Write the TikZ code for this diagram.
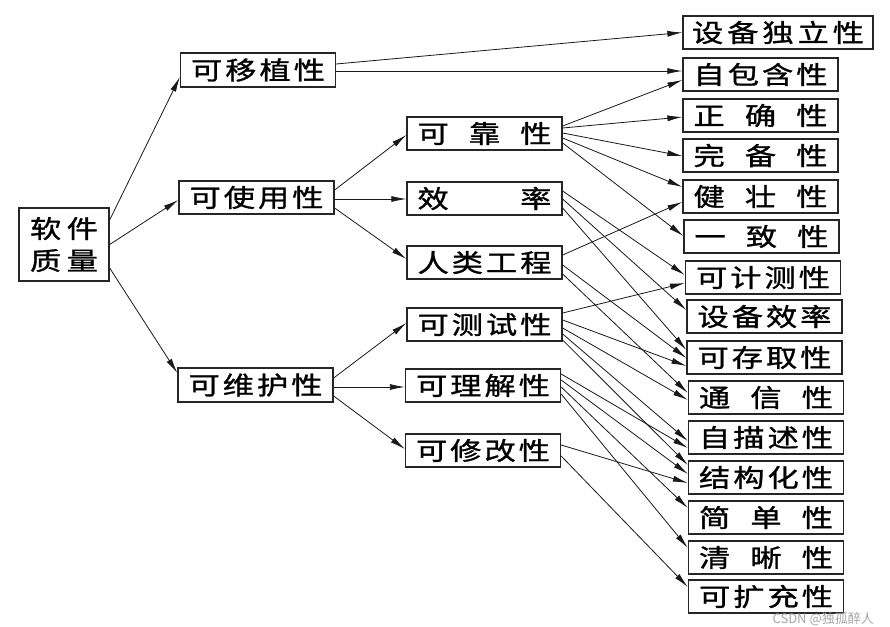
\documentclass[tikz,border=0pt]{standalone}
\usepackage{fontspec}
\usetikzlibrary{arrows.meta}
\newfontfamily\cjk[FakeStretch=1.25,FakeBold=1.2]{Noto Sans CJK SC}
\newfontfamily\cjkw{Noto Sans CJK SC}
\newcommand\lab[1]{\makebox[134pt][s]{#1}}
\newcommand\hf{\hfill{}}
\newcommand\edge[4]{\draw[arr] ([yshift=#2pt]#1.east) -- ([yshift=#4pt]#3.west);}
\tikzset{
  qbox/.style={draw=black!85, line width=1.3pt, rectangle, inner sep=0pt,
    minimum width=155pt, minimum height=33pt,
    font=\cjk\fontsize{25}{30}\selectfont},
  arr/.style={line width=0.8pt, draw=black!90, -{Latex[length=15pt,width=6pt]}}
}
\begin{document}
\begin{tikzpicture}[x=1pt,y=1pt]
\useasboundingbox (0,0) rectangle (890,-626);
\fill[white] (0,0) rectangle (890,-626);
% root
\node[qbox, minimum width=90pt, minimum height=73pt, align=center] (root) at (64,-244.5)
  {\makebox[68pt][s]{软\hf{}件}\\[2pt]\makebox[68pt][s]{质\hf{}量}};
% level 1
\node[qbox, minimum height=34pt] (P) at (258,-70) {\lab{可\hf{}移\hf{}植\hf{}性}};
\node[qbox] (U) at (256.5,-197.5) {\lab{可\hf{}使\hf{}用\hf{}性}};
\node[qbox, minimum height=34pt] (M) at (255.5,-385) {\lab{可\hf{}维\hf{}护\hf{}性}};
% level 2
\node[qbox] (R) at (484.5,-133.5) {\lab{可\hf{}靠\hf{}性}};
\node[qbox] (E) at (484.5,-198.5) {\lab{效\hf{}率}};
\node[qbox] (H) at (484.5,-262.5) {\lab{人\hf{}类\hf{}工\hf{}程}};
\node[qbox] (T) at (484.5,-324.5) {\lab{可\hf{}测\hf{}试\hf{}性}};
\node[qbox] (Un) at (483,-385.5) {\lab{可\hf{}理\hf{}解\hf{}性}};
\node[qbox] (Mo) at (483,-450.5) {\lab{可\hf{}修\hf{}改\hf{}性}};
% level 3
\node[qbox, minimum width=190pt] (r1) at (778,-32.5) {\makebox[172pt][s]{设\hf{}备\hf{}独\hf{}立\hf{}性}};
\node[qbox] (r2) at (760.5,-74.5) {\lab{自\hf{}包\hf{}含\hf{}性}};
\node[qbox] (r3) at (760.5,-115.5) {\lab{正\hf{}确\hf{}性}};
\node[qbox] (r4) at (760.5,-155.5) {\lab{完\hf{}备\hf{}性}};
\node[qbox] (r5) at (760.5,-196.5) {\lab{健\hf{}壮\hf{}性}};
\node[qbox] (r6) at (761.5,-236.5) {\lab{一\hf{}致\hf{}性}};
\node[qbox] (r7) at (763,-277.5) {\lab{可\hf{}计\hf{}测\hf{}性}};
\node[qbox] (r8) at (764.5,-316.5) {\lab{设\hf{}备\hf{}效\hf{}率}};
\node[qbox] (r9) at (764.5,-357.5) {\lab{可\hf{}存\hf{}取\hf{}性}};
\node[qbox] (r10) at (766,-397.5) {\lab{通\hf{}信\hf{}性}};
\node[qbox] (r11) at (766,-437.5) {\lab{自\hf{}描\hf{}述\hf{}性}};
\node[qbox] (r12) at (766,-477.5) {\lab{结\hf{}构\hf{}化\hf{}性}};
\node[qbox] (r13) at (766,-517.5) {\lab{简\hf{}单\hf{}性}};
\node[qbox] (r14) at (766,-557.5) {\lab{清\hf{}晰\hf{}性}};
\node[qbox] (r15) at (766,-596.5) {\lab{可\hf{}扩\hf{}充\hf{}性}};
% edges root
\edge{root}{24.5}{P}{-7}
\edge{root}{0}{U}{-2.5}
\edge{root}{-23.5}{M}{12}
\edge{P}{6}{r1}{0}
\edge{P}{-1}{r2}{3.5}
\edge{U}{7.5}{R}{-1.5}
\edge{U}{-1.5}{E}{-0.5}
\edge{U}{-10.5}{H}{3.5}
\edge{M}{7}{T}{1.5}
\edge{M}{-2}{Un}{-1.5}
\edge{M}{-11}{Mo}{1.5}
% reliability
\edge{R}{7.5}{r2}{-5.5}
\edge{R}{5.5}{r3}{-1.5}
\edge{R}{0.5}{r4}{-0.5}
\edge{R}{-4.5}{r5}{9.5}
\edge{R}{-9.5}{r6}{0.5}
% efficiency
\edge{E}{7.5}{r7}{2.5}
\edge{E}{-0.5}{r8}{6.5}
\edge{E}{-9.5}{r9}{7.5}
% human engineering
\edge{H}{7.5}{r5}{-5.5}
\edge{H}{-2.5}{r9}{-0.5}
\edge{H}{-11.5}{r10}{4.5}
% testability
\edge{T}{11.5}{r7}{-5.5}
\edge{T}{4.5}{r9}{-8.5}
\edge{T}{-3.5}{r10}{-2.5}
\edge{T}{-9.5}{r11}{-3.5}
\edge{T}{-15.5}{r12}{12.5}
% understandability
\edge{Un}{11.5}{r11}{-10.5}
\edge{Un}{5.5}{r12}{3.5}
\edge{Un}{-1.5}{r13}{9.5}
\edge{Un}{-8.5}{r14}{9.5}
% modifiability
\edge{Mo}{5.5}{r12}{-5.5}
\edge{Mo}{-5.5}{r15}{9.5}
% watermark
\node[text=black!35, font=\cjkw\fontsize{13}{15}\selectfont, inner sep=0pt, anchor=east] (wm) at (874,-619) {CSDN @独孤醉人};
\end{tikzpicture}
\end{document}
